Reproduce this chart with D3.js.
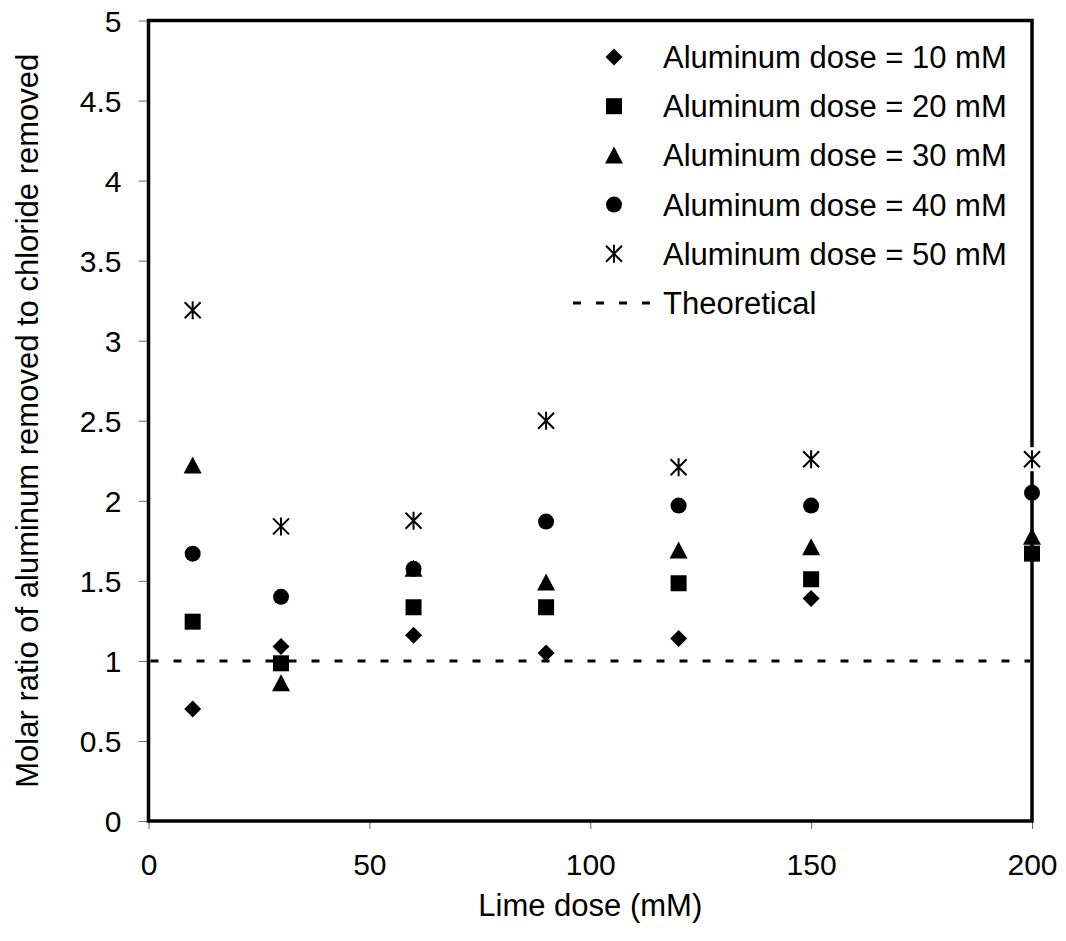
<!DOCTYPE html>
<html>
<title>Molar ratio vs lime dose</title>
<style>
  body {
    margin: 0px;
    background: white;
  }
  text {
    font-family: "Liberation Sans", Arial, sans-serif;
    font-size: 31px;
    fill: black;
  }
  .tick line {
    stroke: #666;
    stroke-width: 1;
  }
</style>
<script src="https://cdn.jsdelivr.net/npm/d3@7"></script>
<body>
<svg width="1066" height="941"></svg>
<script>

// lime dose (mM) on the x axis
const limeDose = [10, 30, 60, 90, 120, 150, 200];

// molar ratio for each aluminum dose
const al10 = [0.70, 1.09, 1.16, 1.05, 1.14, 1.39, null];
const al20 = [1.245, 0.985, 1.335, 1.335, 1.485, 1.51, 1.67];
const al30 = [2.22, 0.86, 1.575, 1.49, 1.69, 1.71, 1.775];
const al40 = [1.67, 1.40, 1.575, 1.87, 1.97, 1.97, 2.05];
const al50 = [3.19, 1.84, 1.875, 2.50, 2.21, 2.26, 2.26];

const seriesNames = [
  "Aluminum dose = 10 mM",
  "Aluminum dose = 20 mM",
  "Aluminum dose = 30 mM",
  "Aluminum dose = 40 mM",
  "Aluminum dose = 50 mM"
];
const seriesShapes = ["diamond", "square", "triangle", "circle", "star"];
const seriesValues = [al10, al20, al30, al40, al50];

const theoretical = 1;
const theoreticalName = "Theoretical";

const xTicks = [0, 50, 100, 150, 200];
const yTicks = [0, 0.5, 1, 1.5, 2, 2.5, 3, 3.5, 4, 4.5, 5];

const margin = {top: 20.5, right: 34, bottom: 120, left: 148.5};
const svg = d3.select("svg");
const width = +svg.attr("width") - margin.left - margin.right;
const height = +svg.attr("height") - margin.top - margin.bottom;

const x = d3.scaleLinear().domain([0, 200]).range([0, width]);
const y = d3.scaleLinear().domain([0, 5]).range([height, 0]);

const g = svg.append("g")
    .attr("transform", "translate(" + margin.left + "," + margin.top + ")");

// axes
const xAxis = g.append("g")
    .attr("transform", "translate(0," + height + ")")
    .call(d3.axisBottom(x).tickValues(xTicks).tickSize(8).tickPadding(25)
      .tickFormat(d3.format("~g")));
const yAxis = g.append("g")
    .call(d3.axisLeft(y).tickValues(yTicks).tickSize(10).tickPadding(17)
      .tickFormat(d3.format("~g")));
[xAxis, yAxis].forEach(a => {
  a.select(".domain").remove();
  a.selectAll("text").style("font-size", "30px")
    .style("font-family", '"Liberation Sans", Arial, sans-serif')
    .attr("fill", "black");
});
yAxis.selectAll("text").attr("dy", "0.36em");

// frame
g.append("rect")
    .attr("width", width)
    .attr("height", height)
    .attr("fill", "none")
    .attr("stroke", "black")
    .attr("stroke-width", 3.5);

// theoretical line
g.append("line")
    .attr("x1", x(0) + 2).attr("x2", x(200) - 2)
    .attr("y1", y(theoretical)).attr("y2", y(theoretical))
    .attr("stroke", "black")
    .attr("stroke-width", 3)
    .attr("stroke-dasharray", "8,15");

// marker drawing
function marker(sel, shape) {
  if (shape === "diamond") {
    sel.append("path").attr("d", "M0,-8.5L8.5,0L0,8.5L-8.5,0Z").attr("fill", "black");
  } else if (shape === "square") {
    sel.append("rect").attr("x", -8).attr("y", -8).attr("width", 16).attr("height", 16)
      .attr("fill", "black");
  } else if (shape === "triangle") {
    sel.append("path").attr("d", "M0,-9L9,8L-9,8Z").attr("fill", "black");
  } else if (shape === "circle") {
    sel.append("circle").attr("r", 8).attr("fill", "black");
  } else if (shape === "star") {
    sel.append("rect").attr("x", -10).attr("y", -12).attr("width", 20).attr("height", 24)
      .attr("fill", "white");
    sel.append("path")
      .attr("d", "M0,-9L0,9M-8,-8L8,8M-8,8L8,-8")
      .attr("stroke", "black")
      .attr("stroke-width", 2)
      .attr("fill", "none");
  }
}

seriesValues.forEach((vals, si) => {
  const pts = limeDose.map((d, i) => ({x: d, y: vals[i]})).filter(p => p.y != null);
  g.append("g").selectAll("g")
    .data(pts)
    .join("g")
      .attr("transform", p => "translate(" + x(p.x) + "," + y(p.y) + ")")
      .each(function() { marker(d3.select(this), seriesShapes[si]); });
});

// legend
const legend = svg.append("g").attr("transform", "translate(614,57)");
const rowH = 49.2;
seriesNames.forEach((name, i) => {
  const row = legend.append("g").attr("transform", "translate(0," + i * rowH + ")");
  marker(row.append("g"), seriesShapes[i]);
  row.append("text").attr("x", 49).attr("y", 11).text(name);
});
const tRow = legend.append("g").attr("transform", "translate(0," + 5 * rowH + ")");
tRow.append("line")
    .attr("x1", -41).attr("x2", 44)
    .attr("stroke", "black")
    .attr("stroke-width", 3)
    .attr("stroke-dasharray", "8,15");
tRow.append("text").attr("x", 49).attr("y", 11).text(theoreticalName);

// axis titles
svg.append("text")
    .attr("x", margin.left + x(100))
    .attr("y", 916)
    .attr("text-anchor", "middle")
    .text("Lime dose (mM)");
svg.append("text")
    .attr("transform", "translate(38," + (margin.top + height / 2) + ") rotate(-90)")
    .attr("text-anchor", "middle")
    .text("Molar ratio of aluminum removed to chloride removed");
</script>
</body>
</html>
